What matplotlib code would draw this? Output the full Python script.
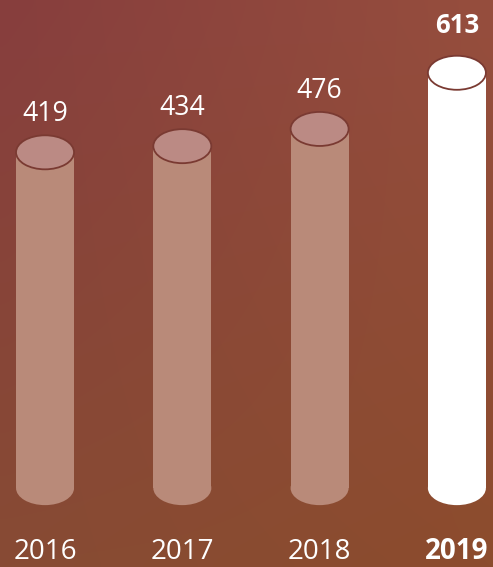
import numpy as np
import matplotlib
matplotlib.use("Agg")
import matplotlib.pyplot as plt
from matplotlib.patches import Ellipse, Rectangle

plt.rcParams["font.family"] = ["Open Sans", "DejaVu Sans"]

# Data
years = ["2016", "2017", "2018", "2019"]
values = [419, 434, 476, 613]

# Layout (value axis tuned to the picture)
base = -400
ellipse_h = 83
bar_w = 0.4225

fig = plt.figure(figsize=(4.93, 5.67), dpi=100)
ax = fig.add_axes([0, 0, 1, 1])
ax.set_xlim(-0.328, 3.263)
ax.set_ylim(-592.4, 790.5)
ax.axis("off")

# Background: soft reddish-brown gradient
corners = np.array([[[135, 62, 62], [150, 78, 62]],
                    [[135, 75, 52], [140, 76, 45]]]) / 255.0
t = np.linspace(0, 1, 60)[:, None, None]
s = np.linspace(0, 1, 60)[None, :, None]
top = corners[0, 0] * (1 - s) + corners[0, 1] * s
bot = corners[1, 0] * (1 - s) + corners[1, 1] * s
bg = top * (1 - t) + bot * t
ax.imshow(bg, extent=[-0.328, 3.263, -592.4, 790.5], aspect="auto",
          interpolation="bicubic", zorder=0)

edge = "#7a3a32"
for i, (yr, v) in enumerate(zip(years, values)):
    hl = i == len(values) - 1
    face = "white" if hl else "#b98a79"
    cap = "white" if hl else "#bb8a84"
    ax.add_patch(Rectangle((i - bar_w / 2, base), bar_w, v - base,
                           facecolor=face, lw=0, zorder=2))
    ax.add_patch(Ellipse((i, base), bar_w, ellipse_h, facecolor=face,
                         lw=0, zorder=2))
    # cap of the cylinder
    ax.add_patch(Ellipse((i, v), bar_w, ellipse_h, facecolor=cap,
                         edgecolor=edge, lw=1.3, zorder=4))
    ax.annotate(str(v), (i, v + ellipse_h / 2), xytext=(0, 12 if hl else 5),
                textcoords="offset points", ha="center", va="bottom",
                color="white", fontsize=18.5 if hl else 19.2,
                fontweight="bold" if hl else "normal", zorder=5)
    ax.text(i, -590, yr, ha="center", va="bottom", color="white",
            fontsize=20, fontweight="bold" if hl else "normal", zorder=5)

fig.savefig("out.png", dpi=100)
